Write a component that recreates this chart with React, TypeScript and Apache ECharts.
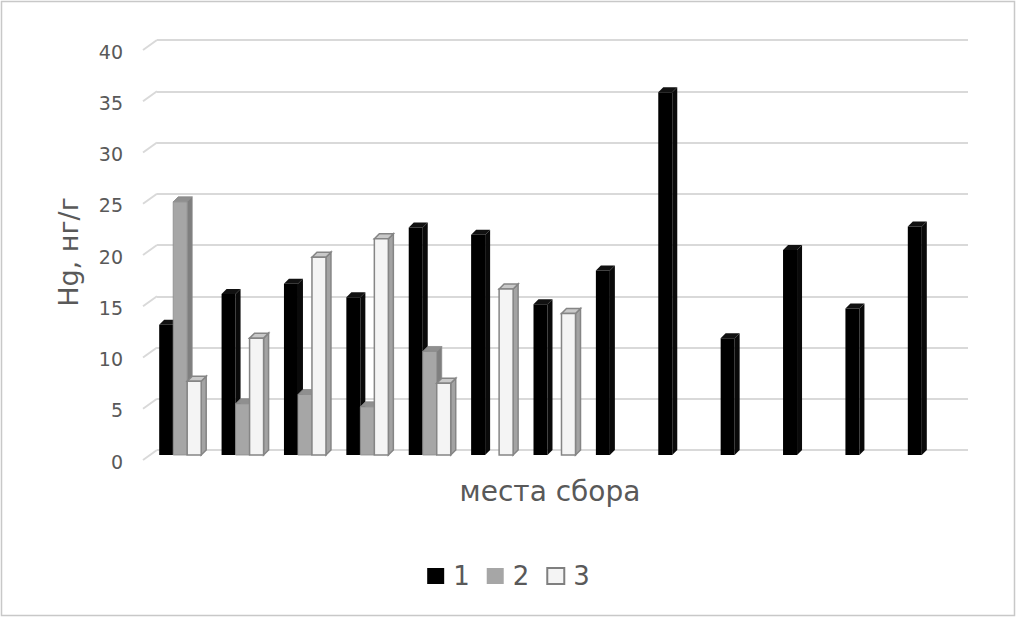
import React, { useEffect, useRef } from "react";
import * as echarts from "echarts";

const categories = ["1", "2", "3", "4", "5", "6", "7", "8", "9", "10", "11", "12", "13"];
const seriesNames = ["1", "2", "3"];
const series1 = [12.7, 15.7, 16.7, 15.4, 22.2, 21.5, 14.7, 18.0, 35.4, 11.4, 20.0, 14.3, 22.3];
const series2 = [24.7, 5.0, 5.9, 4.7, 10.1, null, null, null, null, null, null, null, null];
const series3 = [7.2, 11.4, 19.3, 21.1, 7.0, 16.2, 13.8, null, null, null, null, null, null];
const yTicks = [0, 5, 10, 15, 20, 25, 30, 35, 40];

const FONT = "DejaVu Sans";
const TEXT = "#595959";

const styles = [
  { front: "#000000", top: "#111111", side: "#0a0a0a", stroke: "#000000", lw: 0 },
  { front: "#a6a6a6", top: "#8f8f8f", side: "#7f7f7f", stroke: "#8a8a8a", lw: 0.8 },
  { front: "#f4f4f4", top: "#c9c9c9", side: "#a3a3a3", stroke: "#858585", lw: 1.5 },
];

const W = 14;
const D = 5;

function makeRender(s: number) {
  const st = styles[s];
  return (params: any, api: any) => {
    const idx = api.value(0);
    const v = api.value(1);
    const top = api.coord([idx, v]);
    const base = api.coord([idx, 0]);
    const x0 = top[0] - 29 + s * W;
    const yv = top[1];
    const y0 = base[1];
    const strokeStyle = st.lw > 0 ? { stroke: st.stroke, lineWidth: st.lw } : {};
    return {
      type: "group",
      children: [
        {
          type: "polygon",
          shape: { points: [[x0 + W, yv + D], [x0 + W + D, yv], [x0 + W + D, y0], [x0 + W, y0 + D]] },
          style: { fill: st.side, ...strokeStyle },
        },
        {
          type: "polygon",
          shape: { points: [[x0, yv + D], [x0 + D, yv], [x0 + W + D, yv], [x0 + W, yv + D]] },
          style: { fill: st.top, ...strokeStyle },
        },
        {
          type: "rect",
          shape: { x: x0, y: yv + D, width: W, height: y0 - yv },
          style: { fill: st.front, ...strokeStyle },
        },
      ],
    };
  };
}

function toData(arr: (number | null)[]) {
  const out: number[][] = [];
  arr.forEach((v, i) => {
    if (v != null) out.push([i, v]);
  });
  return out;
}

export default function App() {
  const ref = useRef<HTMLDivElement>(null);
  useEffect(() => {
    if (!ref.current) return;
    const chart = echarts.init(ref.current, null, { renderer: "svg" });
    const all = [series1, series2, series3];
    const option: any = {
      animation: false,
      backgroundColor: "#ffffff",
      grid: { left: 157, right: 49, top: 40, bottom: 169 },
      xAxis: {
        type: "category",
        data: categories,
        axisLine: { show: false },
        axisTick: { show: false },
        axisLabel: { show: false },
        name: "места сбора",
        nameLocation: "middle",
        nameGap: 27,
        nameTextStyle: { fontFamily: FONT, fontSize: 28, color: TEXT, padding: [0, 25, 0, 0] },
      },
      yAxis: {
        type: "value",
        min: 0,
        max: 40,
        interval: 5,
        axisLine: { show: false },
        axisTick: { show: false },
        splitLine: { lineStyle: { color: "#d9d9d9", width: 2 } },
        axisLabel: { fontFamily: FONT, fontSize: 19, color: TEXT, margin: 34, verticalAlign: "top", padding: [2, 0, 0, 0] },
        name: "Hg, нг/г",
        nameLocation: "middle",
        nameRotate: 90,
        nameGap: 75,
        nameTextStyle: { fontFamily: FONT, fontSize: 27, color: TEXT, padding: [0, 14, 0, 0] },
      },
      legend: {
        left: "center",
        top: 558,
        itemWidth: 17,
        itemHeight: 16,
        itemGap: 17,
        icon: "rect",
        textStyle: { fontFamily: FONT, fontSize: 26, color: TEXT, padding: [0, 0, 0, 4] },
        data: [
          { name: seriesNames[0], itemStyle: { color: "#000000" } },
          { name: seriesNames[1], itemStyle: { color: "#a6a6a6" } },
          { name: seriesNames[2], itemStyle: { color: "#f4f4f4", borderColor: "#7f7f7f", borderWidth: 2 } },
        ],
      },
      series: all.map((arr, s) => ({
        type: "custom",
        name: seriesNames[s],
        itemStyle: { color: styles[s].front },
        renderItem: makeRender(s),
        encode: { x: 0, y: 1 },
        data: toData(arr),
      })),
    };
    chart.setOption(option);
    const lines = yTicks.map((t) => {
      const y = chart.convertToPixel({ yAxisIndex: 0 }, t) as number;
      return {
        type: "line",
        shape: { x1: 143, y1: y + 10, x2: 157, y2: y },
        style: { stroke: "#d9d9d9", lineWidth: 2 },
        silent: true,
      };
    });
    chart.setOption({
      graphic: [
        {
          type: "rect",
          shape: { x: 1.5, y: 1.5, width: 1013, height: 614 },
          style: { fill: "none", stroke: "#c8c8c8", lineWidth: 1.5 },
          silent: true,
        },
        ...lines,
      ],
    });
    return () => chart.dispose();
  }, []);
  return <div ref={ref} style={{ position: "absolute", left: 0, top: 0, width: 1017, height: 619 }} />;
}
